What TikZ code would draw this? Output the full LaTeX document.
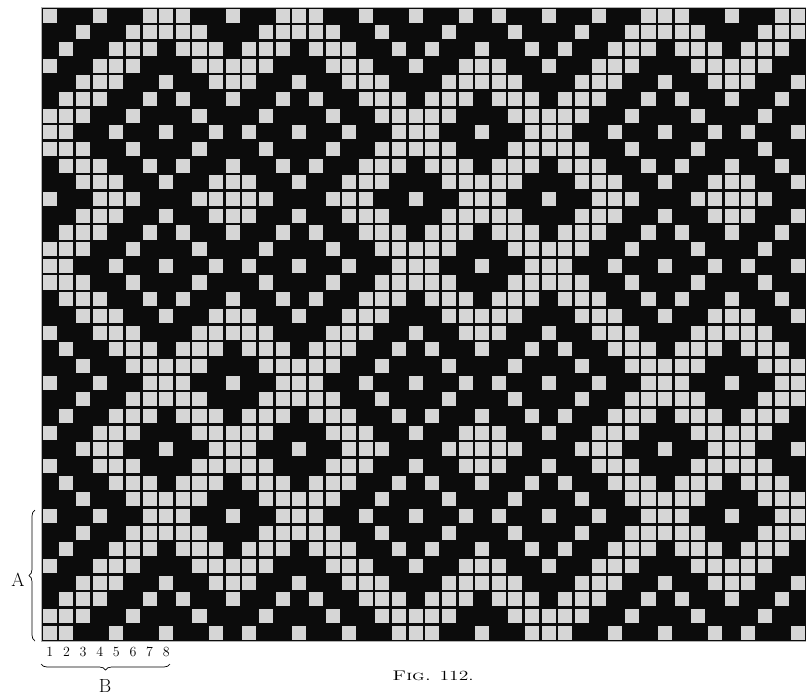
\documentclass[tikz,border=0pt]{standalone}
\usepackage{graphicx}
\usetikzlibrary{decorations.pathreplacing}
\definecolor{ink}{RGB}{12,12,12}
\definecolor{lift}{RGB}{214,214,214}
\tikzset{
  numlabel/.style={font=\fontsize{14}{14}\selectfont, inner sep=0pt},
  bigletter/.style={font=\fontsize{19}{19}\selectfont, inner sep=0pt},
  bracket/.style={decorate, decoration={brace, amplitude=6pt}, line width=0.7pt}
}
\begin{document}
\begin{tikzpicture}[x=1pt,y=-1pt]
    \useasboundingbox (0,0) rectangle (806,696);
    % Design paper, black ground
    \fill[ink] (41.5,7.3) rectangle (806.5,641.1);

    % Raised squares: point draft and treadling over one 8x8 unit
    \def\pathseq{{7,6,5,4,3,2,1,0,1,2,3,4,3,2,1,0,1,2,3,4,5,6,7,6,5,4,3,4,5,6,7,6,5,4,3,2,1,0,1,2,3,4,3,2,1,0}}
    \def\liftset{{1,0,0,1,0,0,1,1,1,0,0,1,0,0,1}}
    \foreach \r in {0,...,37} {
      \foreach \c in {0,...,45} {
        \pgfmathtruncatemacro\sumrc{\pathseq[\r]+\pathseq[\c]}
        \pgfmathtruncatemacro\lit{\liftset[\sumrc]}
        \ifnum\lit=1
          \fill[lift] (41.5+16.63*\c+1.3, 7.3+16.68*\r+1.3) rectangle ++(14.03,14.08);
        \fi
      }
    }
    \draw[gray!60, line width=0.8pt] (41.5,7.3) rectangle (806.5,641.1);

    % Numbers of the first eight ends
    \foreach \k in {1,...,8}
      \node[numlabel] (n\k) at (41.5+16.63*\k-8.3,652) {\k};

    % Brace B under the ends
    \coordinate (bl) at (41,664);
    \coordinate (br) at (170,664);
    \draw[bracket, decoration={mirror}] (bl) -- (br);
    \node[bigletter] (B) at (105,686) {B};

    % Brace A beside the picks
    \coordinate (ab) at (35,641);
    \coordinate (at) at (35,510);
    \draw[bracket] (ab) -- (at);
    \node[bigletter] (A) at (18,580) {A};

    % Caption
    \node[font=\fontsize{14}{14}\selectfont, inner sep=0pt] (fig) at (433,676) {\scalebox{1.4}[1]{\textsc{Fig.} 112.}};
\end{tikzpicture}
\end{document}
